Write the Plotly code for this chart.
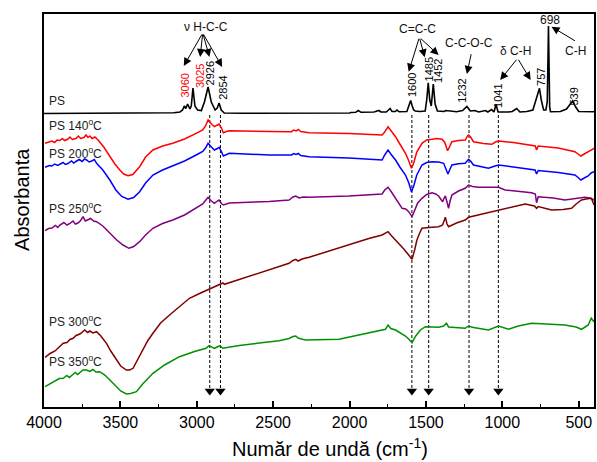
import plotly.graph_objects as go

# FTIR spectra of polystyrene (PS) and PS after heating; absorbance in arbitrary units (stacked)
ps_wn = [4000, 3600, 3300, 3150, 3110, 3093, 3082, 3072, 3060, 3045, 3036, 3025, 3012, 2995, 2970,
         2950, 2926, 2905, 2880, 2866, 2854, 2840, 2820, 2700, 2000, 1990, 1960, 1943, 1925, 1840,
         1820, 1808, 1795, 1760, 1745, 1735, 1722, 1700, 1690, 1675, 1625, 1612, 1600, 1590, 1580,
         1570, 1540, 1505, 1495, 1485, 1475, 1465, 1452, 1440, 1425, 1380, 1370, 1300, 1260, 1232,
         1210, 1180, 1155, 1110, 1095, 1070, 1055, 1041, 1028, 960, 935, 906, 885, 840, 800, 780,
         757, 745, 730, 715, 706, 700, 698, 696, 690, 685, 620, 580, 555, 539, 520, 500, 400]
ps_abs = [293.5, 293.5, 293.8, 294.2, 295, 297, 301, 298.5, 303, 298, 301, 319, 301, 297, 296.5,
          305, 320, 305, 297, 299, 304, 297, 294, 293.7, 294, 294.5, 294.7, 296.5, 294.7, 295,
          296, 296.5, 295, 295, 297, 298.5, 295.5, 295.5, 297, 295.2, 295.5, 301, 306.5, 301, 297,
          296, 295.5, 296, 307, 324.3, 307, 301, 323, 303, 296, 295.5, 296.5, 295.3, 296.5, 300.5,
          296, 296.5, 295, 296.5, 295, 297.5, 295, 302.5, 295, 295, 295.5, 298.5, 295, 295.5, 297, 307,
          318.7, 307, 297, 297, 305, 360, 381, 360, 300, 295.3, 295.5, 298, 303, 306.3, 300, 295.5, 295.3]

ps140_wn = [3993, 3960, 3948, 3930, 3915, 3896, 3880, 3865, 3843, 3830, 3815, 3791, 3775, 3760, 3739,
            3725, 3712, 3700, 3685, 3667, 3646, 3609, 3569, 3536, 3504, 3478, 3450, 3419, 3374, 3335,
            3287, 3224, 3157, 3080, 3004, 2961, 2943, 2926, 2904, 2885, 2865, 2854, 2839, 2826, 2806,
            2787, 2526, 2380, 2365, 2350, 2335, 2320, 2265, 2004, 1787, 1770, 1748, 1730, 1699, 1671,
            1634, 1612, 1595, 1580, 1560, 1526, 1495, 1460, 1430, 1395, 1378, 1358, 1345, 1330, 1287,
            1243, 1228, 1221, 1208, 1189, 1124, 1069, 1045, 1025, 928, 808, 784, 776, 765, 634, 525,
            504, 486, 464, 438, 419, 399]
ps140_abs = [263.7, 265.5, 266, 264.5, 267, 266.5, 268.5, 266.5, 268, 270, 267.5, 268.5, 271, 268.5, 269.5,
             272, 269.5, 271, 268.5, 270, 267, 260, 250.3, 243, 237, 233, 231.3, 232.5, 240.3, 250,
             257, 261, 263.7, 268, 273.7, 277, 281, 287, 283, 280.3, 282, 283, 279, 274.3, 275.5,
             276.3, 275.5, 275.3, 277, 276, 277.5, 275.5, 274.3, 273.5, 272, 275, 280.3, 277, 270.3, 263,
             253.7, 246, 238.7, 244, 255, 263.7, 267, 267.7, 268.5, 267.7, 265, 256.3, 261, 265.3, 266.5,
             267, 271, 272, 270, 265.3, 263.5, 262.7, 265, 266, 264.5, 262, 261, 257, 261, 259, 255.3,
             253, 251, 253, 255.3, 257, 258.7]

ps200_wn = [3993, 3965, 3948, 3930, 3910, 3896, 3875, 3860, 3843, 3820, 3805, 3791, 3770, 3750, 3735,
            3721, 3705, 3687, 3670, 3656, 3615, 3569, 3530, 3491, 3450, 3413, 3374, 3335, 3287, 3224,
            3157, 3080, 3004, 2961, 2943, 2926, 2904, 2885, 2865, 2854, 2839, 2826, 2787, 2526, 2380,
            2365, 2350, 2335, 2320, 2265, 2004, 1787, 1770, 1748, 1730, 1699, 1671, 1634, 1612, 1595,
            1580, 1560, 1526, 1495, 1460, 1417, 1384, 1371, 1356, 1345, 1330, 1287, 1243, 1221, 1208,
            1189, 1124, 1091, 1058, 1025, 928, 786, 776, 765, 634, 525, 504, 486, 464, 438, 419, 399]
ps200_abs = [239.7, 241.5, 241, 243, 241.5, 242.5, 244.5, 242.5, 243.5, 246, 244, 245.5, 247.5, 245.5, 248,
             247, 245, 246, 247.5, 243.7, 237, 227, 217, 210.5, 207.7, 209.5, 215.3, 224, 232, 237,
             241, 246, 252, 255.5, 259, 263.7, 260, 257, 258.5, 259.7, 255.5, 251, 253.7, 252, 252,
             253.5, 252.5, 253.5, 251.5, 250.3, 249, 247, 252, 257, 253, 247, 240, 232, 224, 215.3,
             221, 232, 242, 244.5, 245.3, 245, 243.7, 239, 233, 237, 242, 243.2, 243.7, 247.7, 246,
             242, 240, 238.7, 240.5, 242, 240, 237, 233, 236.5, 234.5, 232, 229.5, 227, 229, 231, 234, 235.3]

ps250_wn = [3993, 3970, 3948, 3925, 3910, 3896, 3870, 3850, 3830, 3810, 3795, 3778, 3760, 3744, 3730,
            3713, 3695, 3675, 3656, 3615, 3569, 3524, 3483, 3444, 3413, 3374, 3335, 3287, 3224, 3157,
            3080, 3004, 2961, 2943, 2926, 2904, 2885, 2865, 2854, 2839, 2826, 2787, 2526, 2396, 2370,
            2352, 2330, 2304, 2265, 2004, 1787, 1770, 1748, 1730, 1699, 1678, 1656, 1632, 1613, 1591,
            1574, 1554, 1526, 1495, 1460, 1436, 1417, 1404, 1391, 1381, 1373, 1362, 1352, 1342, 1330,
            1287, 1243, 1221, 1195, 1156, 1025, 982, 895, 808, 784, 776, 765, 667, 591, 531, 461, 426, 399]
ps250_abs = [176.3, 178.5, 179, 181.5, 179.5, 182, 184.5, 182, 183.7, 186, 183, 184, 186.5, 190.3, 186,
             187, 188.5, 186, 185.3, 181, 173.7, 167, 162, 158.7, 160.5, 165.3, 172, 178.7, 183.5, 187,
             192, 198.7, 203, 206.5, 209.7, 206, 203.7, 206, 207, 203.5, 202, 204, 205.5, 207, 210,
             211, 209, 210, 209.7, 211, 213, 217, 219.7, 216, 208.7, 203, 198.7, 198, 195.3, 190.3,
             197, 204, 208.7, 212.5, 214.3, 213, 211, 208, 205.3, 209, 211, 205, 198.7, 206, 212,
             216, 218.7, 222, 220.5, 219.7, 219.7, 217, 216, 214.3, 213, 204.3, 210.3, 209, 207, 208, 209.7, 209, 207]

ps300_wn = [3993, 3960, 3928, 3900, 3874, 3850, 3830, 3809, 3790, 3765, 3748, 3733, 3715, 3700, 3680,
            3656, 3628, 3591, 3563, 3526, 3498, 3461, 3439, 3417, 3387, 3352, 3322, 3287, 3237, 3178,
            3113, 3048, 2982, 2917, 2865, 2841, 2829, 2819, 2700, 2591, 2461, 2396, 2370, 2352, 2337,
            2311, 2265, 2135, 2004, 1874, 1787, 1770, 1748, 1724, 1678, 1645, 1613, 1591, 1574, 1559,
            1541, 1526, 1482, 1417, 1391, 1373, 1362, 1352, 1300, 1243, 1221, 1156, 1091, 1025, 941,
            851, 790, 776, 765, 678, 602, 547, 517, 482, 452, 418, 399]
ps300_abs = [49.7, 53.5, 56, 60.5, 63.7, 64.5, 67.5, 68.7, 71.5, 73, 75.5, 77, 74.5, 76, 74,
             75.3, 71, 63.7, 56, 47, 41, 37, 37, 38.7, 47, 57, 66, 73.7, 84, 92,
             100.5, 108.7, 113.5, 117.7, 121, 122.7, 124, 122.7, 128.7, 134, 140.5, 143.7, 146.5, 147.7, 146,
             148, 149.7, 156, 162, 168.5, 172, 173.5, 175.3, 171, 163.7, 158, 152, 147.7, 157, 167,
             174, 178.7, 179.5, 180.3, 182, 189.7, 183, 180.3, 184, 187, 189.7, 192, 195, 197, 200,
             203, 201, 198.7, 200.5, 197, 197.5, 198.7, 203, 207, 208, 208.7, 202]

ps350_wn = [3993, 3960, 3928, 3900, 3874, 3850, 3835, 3817, 3795, 3780, 3765, 3745, 3721, 3700, 3680,
            3660, 3635, 3602, 3569, 3530, 3498, 3461, 3433, 3395, 3354, 3287, 3211, 3113, 3015, 2939,
            2920, 2885, 2865, 2848, 2830, 2721, 2591, 2461, 2396, 2370, 2352, 2337, 2309, 2286, 2069,
            1895, 1765, 1748, 1730, 1699, 1634, 1613, 1591, 1567, 1536, 1504, 1417, 1384, 1366, 1352,
            1319, 1243, 1221, 1189, 1091, 1025, 960, 895, 808, 699, 591, 517, 482, 458, 438, 418, 399]
ps350_abs = [20.3, 23.5, 26, 28.5, 28.7, 31.5, 29.5, 32, 34.5, 32.5, 34.5, 37, 37, 35.5, 37.5,
             35, 35.3, 32, 27, 21, 16, 13, 13.5, 15.3, 23, 33.7, 42, 50.3, 55.5, 58.7,
             61.3, 58.7, 60, 61.3, 58.7, 61.5, 64, 66.3, 68.5, 70.5, 71, 69, 67.7, 67, 67.7,
             73.7, 77.7, 82, 78.5, 77, 71, 68, 64.3, 71, 77, 80.3, 79.7, 81, 83.7, 80,
             79.5, 78.7, 81, 79.5, 77, 81, 77.7, 81, 83.7, 83, 82, 80, 77.7, 80, 82, 88.7, 85]

series = [
    ("PS", ps_wn, ps_abs, "#000000", 1.6),
    ("PS 140°C", ps140_wn, ps140_abs, "#ff0000", 1.5),
    ("PS 200°C", ps200_wn, ps200_abs, "#0000ff", 1.5),
    ("PS 250°C", ps250_wn, ps250_abs, "#800080", 1.5),
    ("PS 300°C", ps300_wn, ps300_abs, "#800000", 1.5),
    ("PS 350°C", ps350_wn, ps350_abs, "#009000", 1.5),
]

# Curve labels on the left side and their absorbance level
curve_labels = ["PS", "PS 140<sup>o</sup>C", "PS 200<sup>o</sup>C", "PS 250<sup>o</sup>C",
                "PS 300<sup>o</sup>C", "PS 350<sup>o</sup>C"]
curve_label_y = [306.5, 282, 254.5, 199.5, 86, 46]

# Dashed guide lines marking the characteristic bands
guide_wn = [2915, 2845, 1592, 1482, 1218, 1026]
guide_top = 292
guide_bottom = 14
guide_tip = 11

# Band assignments: vertical band labels
band_text = ["3060", "3025", "2926", "2854", "1600", "1485", "1452", "1232", "1041", "757", "539"]
band_wn = [3080, 2982, 2911, 2830, 1591, 1477, 1421, 1265, 1032, 747, 534]
band_y = [321, 330.5, 334, 319, 322, 338, 336, 316, 311.5, 330, 310]
band_color = ["#ff0000", "#ff0000"] + ["#000000"] * 9

fig = go.Figure()

for wn in guide_wn:
    fig.add_trace(go.Scatter(x=[wn, wn], y=[guide_top, guide_bottom], mode="lines",
                             line=dict(color="black", width=1, dash="3px,2px"),
                             hoverinfo="skip", showlegend=False))
fig.add_trace(go.Scatter(x=guide_wn, y=[guide_tip + 5] * len(guide_wn), mode="markers",
                         marker=dict(symbol="triangle-down", size=9, color="black"),
                         hoverinfo="skip", showlegend=False))

for name, wn, ab, col, lw in series:
    fig.add_trace(go.Scatter(x=wn, y=ab, mode="lines", name=name,
                             line=dict(color=col, width=lw), showlegend=False))

ann = []
font_main = "Arial, Liberation Sans, sans-serif"

for txt, yv in zip(curve_labels, curve_label_y):
    ann.append(dict(x=3978, y=yv, xref="x", yref="y", text=txt, showarrow=False,
                    xanchor="left", yanchor="middle", font=dict(size=12, color="#222222")))

for txt, wn, yv, col in zip(band_text, band_wn, band_y, band_color):
    ann.append(dict(x=wn, y=yv, xref="x", yref="y", text=txt, showarrow=False, textangle=-90,
                    xanchor="center", yanchor="middle", font=dict(size=11, color=col)))

# Group headings
groups = [("ν H-C-C", 2937, 380), ("C=C-C", 1554, 377.7), ("C-C-O-C", 1215, 363.7),
          ("δ C-H", 915, 355.7), ("C-H", 523, 356.5), ("698", 688, 387)]
for txt, wn, yv in groups:
    ann.append(dict(x=wn, y=yv, xref="x", yref="y", text=txt, showarrow=False,
                    xanchor="center", yanchor="middle", font=dict(size=12, color="#111111")))

# Arrows from headings to bands: (tail wn, tail y, head wn, head y)
arrows = [(2961, 374, 3085, 341), (2961, 374, 2978, 350), (2961, 374, 2917, 350), (2961, 374, 2834, 340),
          (1543, 369.7, 1613, 335.3), (1543, 369.7, 1508, 349.7), (1543, 369.7, 1417, 352),
          (1202, 354.3, 1232, 333), (900, 348.7, 1014, 327), (900, 348.7, 815, 327),
          (515, 365.3, 678, 380.3)]
for tx, ty, hx, hy in arrows:
    ann.append(dict(x=hx, y=hy, ax=tx, ay=ty, xref="x", yref="y", axref="x", ayref="y",
                    text="", showarrow=True, arrowhead=2, arrowsize=1.6, arrowwidth=1,
                    arrowcolor="black"))

# Axis titles
ann.append(dict(x=0.52, y=-0.103, xref="paper", yref="paper", text="Număr de undă (cm<sup>-1</sup>)",
                showarrow=False, xanchor="center", yanchor="middle", font=dict(size=20, color="black")))
ann.append(dict(x=-0.04, y=0.527, xref="paper", yref="paper", text="Absorbanta", textangle=-90,
                showarrow=False, xanchor="center", yanchor="middle", font=dict(size=20, color="black")))

fig.update_layout(
    width=597, height=462,
    margin=dict(l=44, r=1, t=14, b=55),
    paper_bgcolor="white", plot_bgcolor="white",
    font=dict(family=font_main, color="black"),
    annotations=ann,
    showlegend=False,
)
fig.update_xaxes(range=[4000, 400], tickvals=[4000, 3500, 3000, 2500, 2000, 1500, 1000, 500],
                 ticks="inside", ticklen=6, tickwidth=1.5, tickcolor="black",
                 minor=dict(tickvals=[3750, 3250, 2750, 2250, 1750, 1250, 750], ticks="inside",
                            ticklen=3, tickwidth=1.2, tickcolor="black"),
                 showline=True, linecolor="black", linewidth=1.5, mirror=True, showgrid=False,
                 zeroline=False, tickfont=dict(size=16, color="black"), ticklabelstandoff=0)
fig.update_yaxes(range=[0, 393], showticklabels=False, ticks="", showline=True, linecolor="black",
                 linewidth=1.5, mirror=True, showgrid=False, zeroline=False)

fig.write_html("out.html")
